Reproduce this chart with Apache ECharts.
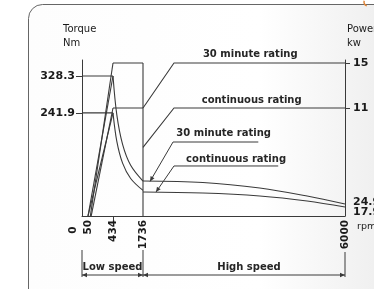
<!DOCTYPE html>
<html>
<head>
<meta charset="utf-8">
<script src="https://cdn.jsdelivr.net/npm/echarts@6.0.0/dist/echarts.min.js"></script>
<style>
html, body { margin: 0; padding: 0; background: #fff; }
#main { width: 374px; height: 289px; }
</style>
</head>
<body>
<div id="main"></div>
<script>
// speeds marked on the axis (rpm)
var rpmTicks = [0, 50, 434, 1736, 6000];
// levels printed on the torque and power axes
var torqueTicks = [241.9, 328.3];
var powerTicks = [11, 15];
var endTorque = ['24.9', '17.9'];

// rising part, both ratings start at 50 rpm
var riseRpm = [50, 434];
var torque30Rise = [0, 328.3];
var torqueContRise = [0, 241.9];
var power30Rise = [0, 15];
var powerContRise = [0, 11];

// constant power band, low speed winding
var lowFlatRpm = [434, 1736];
var power30Low = [15, 15];
var powerContLow = [11, 11];

// torque falling off in the low speed band
var lowFallRpm = [434, 600, 850, 1200, 1736];
var torque30Low = [328.3, 237, 168, 119, 82];
var torqueContLow = [241.9, 175, 124, 88, 60];

// high speed winding
var highRpm = [1736, 3000, 4200, 5200, 6000];
var torque30High = [82, 78.6, 65.7, 46.9, 28];
var torqueContHigh = [56.3, 53.9, 46.9, 35.2, 21];
var highPowerRpm = [1736, 2390, 6000];
var power30High = [11, 15, 15];
var powerContHigh = [7.5, 11, 11];

// the speed axis is drawn schematically: px along the axis for each tick speed
var AXIS_PX = [0, 6, 31, 61, 263];
function sx(rpm) {
  for (var i = 1; i < rpmTicks.length; i++) {
    if (rpm <= rpmTicks[i]) {
      var t = (rpm - rpmTicks[i - 1]) / (rpmTicks[i] - rpmTicks[i - 1]);
      return AXIS_PX[i - 1] + t * (AXIS_PX[i] - AXIS_PX[i - 1]);
    }
  }
  return AXIS_PX[AXIS_PX.length - 1];
}

var INK = '#3a3a3a';
var FONT = 'DejaVu Sans';

function seg(xs, ys, axis, smooth) {
  return {
    type: 'line',
    yAxisIndex: axis,
    data: xs.map(function (r, i) { return [sx(r), ys[i]]; }),
    symbol: 'none',
    smooth: smooth ? 0.35 : false,
    clip: true,
    silent: true,
    lineStyle: { color: INK, width: 1.1 },
    z: 3
  };
}

var chart = echarts.init(document.getElementById('main'));

var option = {
  animation: false,
  grid: { left: 82, right: 29, top: 60, bottom: 73 },
  xAxis: {
    type: 'value',
    min: 0,
    max: AXIS_PX[AXIS_PX.length - 1],
    splitLine: { show: false },
    axisLine: { lineStyle: { color: INK, width: 1 } },
    axisTick: { customValues: [sx(434)], length: 5, lineStyle: { color: INK } },
    axisLabel: {
      customValues: [sx(50), sx(434), sx(1736), sx(6000)],
      rotate: 90,
      margin: 4,
      color: '#1a1a1a',
      fontFamily: FONT,
      fontWeight: 'bold',
      fontSize: 10.5,
      formatter: function (v) {
        for (var i = 0; i < rpmTicks.length; i++) {
          if (Math.abs(sx(rpmTicks[i]) - v) < 0.01) return String(rpmTicks[i]);
        }
        return '';
      }
    }
  },
  yAxis: [{
    type: 'value',
    min: 0,
    max: 365.8,
    splitLine: { show: false },
    axisLine: { show: true, lineStyle: { color: INK, width: 1 } },
    axisTick: { show: true, customValues: torqueTicks, length: 6, lineStyle: { color: INK } },
    axisLabel: {
      customValues: torqueTicks,
      margin: 7,
      color: '#1a1a1a',
      fontFamily: FONT,
      fontWeight: 'bold',
      fontSize: 11,
      formatter: function (v) { return v.toFixed(1); }
    }
  }, {
    type: 'value',
    position: 'right',
    min: 1.4,
    max: 15.2667,
    splitLine: { show: false },
    axisLine: { show: true, lineStyle: { color: INK, width: 1 } },
    axisTick: { show: true, customValues: powerTicks, length: 5, lineStyle: { color: INK } },
    axisLabel: {
      customValues: powerTicks,
      margin: 8,
      color: '#1a1a1a',
      fontFamily: FONT,
      fontWeight: 'bold',
      fontSize: 11
    }
  }],
  series: [
    seg(riseRpm, torque30Rise, 0),
    seg(riseRpm, torqueContRise, 0),
    seg(riseRpm, power30Rise, 1),
    seg(riseRpm, powerContRise, 1),
    seg(lowFlatRpm, power30Low, 1),
    seg(lowFlatRpm, powerContLow, 1),
    seg(lowFallRpm, torque30Low, 0, true),
    seg(lowFallRpm, torqueContLow, 0, true),
    seg(highRpm, torque30High, 0, true),
    seg(highRpm, torqueContHigh, 0, true),
    seg(highPowerRpm, power30High, 1),
    seg(highPowerRpm, powerContHigh, 1),
    // leader lines from the axis labels to the torque peaks
    seg([0, 434], [torqueTicks[1], torqueTicks[1]], 0),
    seg([0, 434], [torqueTicks[0], torqueTicks[0]], 0),
    // divider between low and high speed winding
    seg([1736, 1736], [15, 1.4], 1)
  ]
};
chart.setOption(option);

// ---- annotations placed from data coordinates ----
function pT(rpm, v) { return chart.convertToPixel({ xAxisIndex: 0, yAxisIndex: 0 }, [sx(rpm), v]); }
function pP(rpm, v) { return chart.convertToPixel({ xAxisIndex: 0, yAxisIndex: 1 }, [sx(rpm), v]); }

function txt(x, y, s, opt) {
  opt = opt || {};
  return {
    type: 'text', x: x, y: y, rotation: opt.rot || 0, silent: true,
    style: {
      text: s, fill: opt.color || '#1a1a1a',
      font: (opt.weight || 'normal') + ' ' + (opt.size || 11) + 'px "' + FONT + '"',
      align: opt.align || 'left', verticalAlign: opt.va || 'middle'
    }
  };
}
function line(pts) {
  return { type: 'polyline', silent: true, shape: { points: pts }, style: { stroke: INK, lineWidth: 1, fill: null } };
}
function arrow(tip, from, size) {
  var dx = tip[0] - from[0], dy = tip[1] - from[1];
  var len = Math.sqrt(dx * dx + dy * dy);
  var ux = dx / len, uy = dy / len;
  var bx = tip[0] - ux * size, by = tip[1] - uy * size;
  var w = size * 0.45;
  return {
    type: 'polygon', silent: true,
    shape: { points: [tip, [bx - uy * w, by + ux * w], [bx + uy * w, by - ux * w]] },
    style: { fill: INK }
  };
}

var g = [];
// frame
g.push({
  type: 'rect', silent: true, z: -10,
  shape: { x: 28.5, y: 4.5, width: 420, height: 400, r: 14 },
  style: {
    stroke: '#666', lineWidth: 1,
    fill: new echarts.graphic.LinearGradient(0, 0, 1, 0, [
      { offset: 0, color: '#fdfdfd' }, { offset: 0.55, color: '#ffffff' }, { offset: 1, color: '#e6e6e6' }
    ])
  }
});
// small orange mark at the top edge
g.push({
  type: 'arc', silent: true,
  shape: { cx: 368, cy: 2, r: 4, startAngle: Math.PI * 0.6, endAngle: Math.PI * 1.1 },
  style: { stroke: '#e0873a', lineWidth: 1.5, fill: null }
});

var o = pT(0, 0);
var x1736 = pT(1736, 0)[0], x6000 = pT(6000, 0)[0];
var base = o[1];

// axis names
g.push(txt(o[0] - 19, base - 187, 'Torque', { size: 10 }));
g.push(txt(o[0] - 19, base - 173, 'Nm', { size: 10 }));
g.push(txt(x6000 + 2, base - 187, 'Power', { size: 10 }));
g.push(txt(x6000 + 2, base - 173, 'kw', { size: 10 }));

// origin label
g.push(txt(o[0] - 9, base + 14, '0', { size: 10.5, weight: 'bold', rot: Math.PI / 2, align: 'center' }));

// end values at 6000 rpm
g.push(txt(x6000 + 8, base - 14, endTorque[0], { size: 11, weight: 'bold' }));
g.push(txt(x6000 + 8, base - 4, endTorque[1], { size: 11, weight: 'bold' }));
g.push(txt(x6000 + 12, base + 11, 'rpm', { size: 9.5 }));

// power rating labels above the high speed power lines
var lab = { size: 10, weight: 'bold', align: 'center', color: '#262626' };
var a = pP(4000, 15);
g.push(txt(a[0], a[1] - 9, '30 minute rating', lab));
a = pP(4030, 11);
g.push(txt(a[0], a[1] - 8, 'continuous rating', lab));

// torque rating leaders
var tip1 = pT(1884, 81), elb1 = pT(2370, 173.5), end1 = pT(4170, 173.5);
g.push(line([tip1, elb1, end1]));
g.push(arrow(tip1, elb1, 5));
g.push(txt((elb1[0] + end1[0]) / 2 + 8, elb1[1] - 9, '30 minute rating', lab));
var tip2 = pT(2010, 56), elb2 = pT(2390, 117.3), end2 = pT(4590, 117.3);
g.push(line([tip2, elb2, end2]));
g.push(arrow(tip2, elb2, 5));
g.push(txt((elb2[0] + end2[0]) / 2 + 10, elb2[1] - 7, 'continuous rating', lab));

// speed range brackets below the axis
var yb = base + 59;
g.push(line([[o[0], base + 34], [o[0], base + 61]]));
g.push(line([[x1736, base + 34], [x1736, base + 61]]));
g.push(line([[x6000, base + 36], [x6000, base + 61]]));
g.push(line([[o[0], yb], [x6000, yb]]));
g.push(arrow([o[0], yb], [o[0] + 10, yb], 5));
g.push(arrow([x1736, yb], [x1736 - 10, yb], 5));
g.push(arrow([x1736, yb], [x1736 + 10, yb], 5));
g.push(arrow([x6000, yb], [x6000 - 10, yb], 5));
g.push(txt((o[0] + x1736) / 2, yb - 8, 'Low speed', { size: 10, weight: 'bold', align: 'center', color: '#262626' }));
g.push(txt((x1736 + x6000) / 2 + 5, yb - 8, 'High speed', { size: 10, weight: 'bold', align: 'center', color: '#262626' }));

chart.setOption({ graphic: g });
</script>
</body>
</html>
